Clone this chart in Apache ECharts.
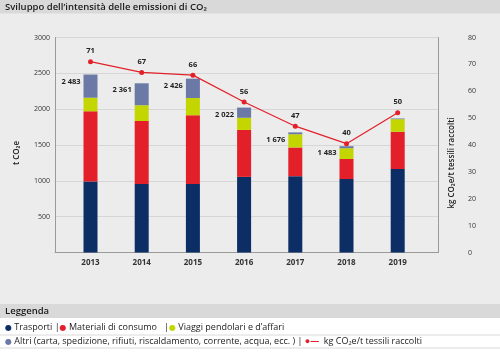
<!DOCTYPE html>
<html><head><meta charset="utf-8">
<script src="https://cdn.jsdelivr.net/npm/echarts@6/dist/echarts.min.js"></script>
<style>html,body{margin:0;padding:0;background:#ececec}#c{width:500px;height:363px}</style>
</head><body><div id="c"></div>
<script>
const years = ['2013', '2014', '2015', '2016', '2017', '2018', '2019'];
const trasporti = [990, 955, 955, 1055, 1065, 1025, 1165];
const materiali = [980, 880, 960, 655, 400, 280, 520];
const viaggi = [190, 220, 240, 170, 185, 150, 175];
const altri = [323, 306, 271, 142, 26, 28, 10];
const totali = [2483, 2361, 2426, 2022, 1676, 1483, null];
const intensita = [71, 67, 66, 56, 47, 40.5, 52];
const intensitaLabels = ['71', '67', '66', '56', '47', '40', '50'];
const leftTicks = [0, 500, 1000, 1500, 2000, 2500, 3000];
const rightTicks = [0, 10, 20, 30, 40, 50, 60, 70, 80];

const FONT = '"Open Sans", "Noto Sans", sans-serif';
const C_NAVY = '#0c2e64', C_RED = '#e3202a', C_YEL = '#c4d600', C_GREY = '#6b79a6';
const LMIN = leftTicks[0], LMAX = leftTicks[leftTicks.length - 1];
const RMIN = rightTicks[0], RMAX = rightTicks[rightTicks.length - 1];

const barBase = {type: 'bar', stack: 'tot', barWidth: 14, xAxisIndex: 1, yAxisIndex: 2};
const dot = c => ({fill: c, font: '8px "DejaVu Sans", sans-serif', verticalAlign: 'middle'});

const chart = echarts.init(document.getElementById('c'), null, {renderer: 'canvas'});
chart.setOption({
  backgroundColor: '#ececec',
  animation: false,
  textStyle: {fontFamily: FONT},
  grid: [
    {left: 55, right: 62, top: 37.5, bottom: 110.5},
    {left: 64.9, right: 76.7, top: 37.5, bottom: 110.5}
  ],
  xAxis: [
    {type: 'category', gridIndex: 0, data: years,
     axisLine: {show: true, lineStyle: {color: '#9a9a9a', width: 1}},
     axisTick: {show: false}, axisLabel: {show: false}, splitLine: {show: false}},
    {type: 'category', gridIndex: 1, data: years,
     axisLine: {show: false}, axisTick: {show: false}, splitLine: {show: false},
     axisLabel: {color: '#333', fontSize: 8, fontWeight: 'bold', margin: 6, fontFamily: FONT}}
  ],
  yAxis: [
    {type: 'value', gridIndex: 0, min: LMIN, max: LMAX, interval: 500,
     axisLine: {show: true, lineStyle: {color: '#9a9a9a'}},
     axisTick: {show: false},
     splitLine: {show: true, lineStyle: {color: '#d6d6d6', width: 1}},
     axisLabel: {formatter: v => v === 0 ? '' : String(v), color: '#333', fontSize: 7, margin: 5, fontFamily: FONT}},
    {type: 'value', gridIndex: 0, min: RMIN, max: RMAX, interval: 10, position: 'right',
     axisLine: {show: true, lineStyle: {color: '#9a9a9a'}},
     axisTick: {show: false}, splitLine: {show: false},
     axisLabel: {formatter: v => String(v), color: '#333', fontSize: 7, margin: 30, fontFamily: FONT}},
    {type: 'value', gridIndex: 1, min: LMIN, max: LMAX, show: false, splitLine: {show: false}},
    {type: 'value', gridIndex: 1, min: RMIN, max: RMAX, show: false, splitLine: {show: false}}
  ],
  series: [
    Object.assign({}, barBase, {name: 'Trasporti', data: trasporti, itemStyle: {color: C_NAVY}}),
    Object.assign({}, barBase, {name: 'Materiali di consumo', data: materiali, itemStyle: {color: C_RED}}),
    Object.assign({}, barBase, {name: 'Viaggi pendolari e d’affari', data: viaggi, itemStyle: {color: C_YEL}}),
    Object.assign({}, barBase, {name: 'Altri', data: altri, itemStyle: {color: C_GREY},
      label: {show: true, position: [-3, 7], align: 'right', verticalAlign: 'middle',
        formatter: p => totali[p.dataIndex] == null ? '' : String(totali[p.dataIndex]).replace(/\B(?=(\d{3})+(?!\d))/g, ' '),
        color: '#222', fontSize: 7.5, fontWeight: 'bold', fontFamily: FONT}}),
    {type: 'line', name: 'kg CO₂e/t tessili raccolti', xAxisIndex: 1, yAxisIndex: 3, data: intensita,
     z: 5, symbol: 'circle', symbolSize: 5,
     lineStyle: {color: C_RED, width: 1.2}, itemStyle: {color: C_RED},
     label: {show: true, position: 'top', distance: 4, formatter: p => intensitaLabels[p.dataIndex],
       color: '#222', fontSize: 7.5, fontWeight: 'bold', fontFamily: FONT}}
  ],
  graphic: [
    {type: 'rect', shape: {x: 0, y: 0, width: 500, height: 13.5}, style: {fill: '#d9d9d9'}, z: -1},
    {type: 'text', x: 5, y: 7, style: {text: 'Sviluppo dell’intensità delle emissioni di CO₂', font: '600 9.5px ' + FONT, fill: '#1a1a1a', verticalAlign: 'middle'}},
    {type: 'text', x: 16.5, y: 153, rotation: Math.PI / 2, style: {text: 't CO₂e', font: '600 8px ' + FONT, fill: '#222', align: 'center', verticalAlign: 'middle'}},
    {type: 'text', x: 452, y: 163, rotation: Math.PI / 2, style: {text: 'kg CO₂e/t tessili raccolti', font: '600 8px ' + FONT, fill: '#222', align: 'center', verticalAlign: 'middle'}},
    {type: 'rect', shape: {x: 0, y: 304, width: 500, height: 14}, style: {fill: '#d9d9d9'}, z: -1},
    {type: 'text', x: 5, y: 311, style: {text: 'Leggenda', font: '600 9.5px ' + FONT, fill: '#1a1a1a', verticalAlign: 'middle'}},
    {type: 'rect', shape: {x: 0, y: 318, width: 500, height: 45}, style: {fill: '#ffffff'}, z: -1},
    {type: 'line', shape: {x1: 0, y1: 335, x2: 500, y2: 335}, style: {stroke: '#dadada', lineWidth: 1}},
    {type: 'line', shape: {x1: 0, y1: 348, x2: 500, y2: 348}, style: {stroke: '#dadada', lineWidth: 1}},
    {type: 'text', x: 5, y: 327.5, style: {
      text: '{n|●}{t| Trasporti |}{r|●}{t| Materiali di consumo   |}{y|●}{t| Viaggi pendolari e d’affari}',
      font: '9px ' + FONT, fill: '#222', verticalAlign: 'middle',
      rich: {t: {font: '9px ' + FONT, fill: '#222', verticalAlign: 'middle'}, n: dot(C_NAVY), r: dot(C_RED), y: dot(C_YEL)}}},
    {type: 'text', x: 5, y: 341.5, style: {
      text: '{g|●}{t| Altri (carta, spedizione, rifiuti, riscaldamento, corrente, acqua, ecc. ) | }{l|●—}{t|  kg CO₂e/t tessili raccolti}',
      font: '9px ' + FONT, fill: '#222', verticalAlign: 'middle',
      rich: {t: {font: '9px ' + FONT, fill: '#222', verticalAlign: 'middle'}, g: dot(C_GREY), l: {fill: C_RED, font: 'bold 9px ' + FONT, verticalAlign: 'middle'}}}}
  ]
});
</script></body></html>
